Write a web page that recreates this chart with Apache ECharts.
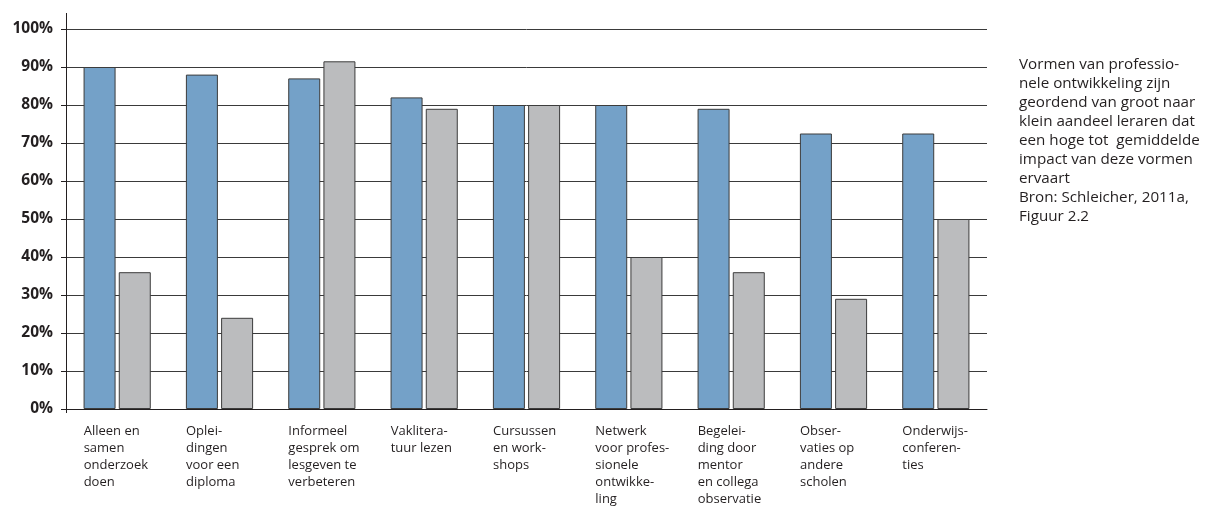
<!DOCTYPE html>
<html>
<head>
<meta charset="utf-8">
<script src="https://cdn.jsdelivr.net/npm/echarts@6/dist/echarts.min.js"></script>
<style>
  html, body { margin: 0; padding: 0; background: #fff; }
  #chart { width: 1216px; height: 510px; }
</style>
</head>
<body>
<div id="chart"></div>
<script>
const categories = [
  'Alleen en\nsamen\nonderzoek\ndoen',
  'Oplei-\ndingen\nvoor een\ndiploma',
  'Informeel\ngesprek om\nlesgeven te\nverbeteren',
  'Vaklitera-\ntuur lezen',
  'Cursussen\nen work-\nshops',
  'Netwerk\nvoor profes-\nsionele\nontwikke-\nling',
  'Begelei-\nding door\nmentor\nen collega\nobservatie',
  'Obser-\nvaties op\nandere\nscholen',
  'Onderwijs-\nconferen-\nties'
];
const blueValues = [90, 88, 87, 82, 80, 80, 79, 72.5, 72.5];
const grayValues = [36, 24, 91.5, 79, 80, 40, 36, 29, 50];
const yMin = 0, yMax = 100, yStep = 10;
const noteLines = [
  'Vormen van professio-',
  'nele ontwikkeling zijn',
  'geordend van groot naar',
  'klein aandeel leraren dat',
  'een hoge tot  gemiddelde',
  'impact van deze vormen',
  'ervaart',
  'Bron: Schleicher, 2011a,',
  'Figuur 2.2'
];

const FONT = '"Open Sans", "Noto Sans", sans-serif';
const chart = echarts.init(document.getElementById('chart'), null, { renderer: 'canvas' });

const GL = 66, GR = 987, GT = 29, GB = 409;

chart.setOption({
  animation: false,
  backgroundColor: '#ffffff',
  grid: { left: GL, right: 1216 - GR, top: GT, bottom: 510 - GB, containLabel: false },
  xAxis: {
    type: 'category',
    data: categories,
    boundaryGap: true,
    axisLine: { show: true, lineStyle: { color: '#231f20', width: 1 } },
    axisTick: { show: false },
    axisLabel: {
      interval: 0,
      margin: 14,
      color: '#231f20',
      fontFamily: FONT,
      fontSize: 13,
      formatter: function (v) { return '{a|' + v + '}'; },
      rich: { a: { width: 67, align: 'left', lineHeight: 17, fontFamily: FONT, fontSize: 13, color: '#231f20' } }
    }
  },
  yAxis: {
    type: 'value',
    min: yMin,
    max: yMax,
    interval: yStep,
    axisLine: { show: true, lineStyle: { color: '#231f20', width: 1 } },
    axisTick: { show: true, length: 5, lineStyle: { color: '#231f20' } },
    splitLine: { show: true, lineStyle: { color: '#3a3a3a', width: 1 } },
    axisLabel: {
      margin: 13,
      color: '#231f20',
      fontFamily: FONT,
      fontWeight: 'bold',
      fontSize: 15.5,
      formatter: '{value}%'
    }
  },
  series: [
    {
      name: 'blauw',
      type: 'bar',
      data: blueValues,
      barWidth: 32,
      barGap: '10%',
      itemStyle: { color: '#74a1c8', borderColor: '#3c3c3c', borderWidth: 1 }
    },
    {
      name: 'grijs',
      type: 'bar',
      data: grayValues,
      barWidth: 32,
      barGap: '10%',
      itemStyle: { color: '#bbbcbe', borderColor: '#3c3c3c', borderWidth: 1 }
    }
  ],
  graphic: [
    { type: 'line', shape: { x1: GL + 0.5, y1: 13, x2: GL + 0.5, y2: GT }, style: { stroke: '#231f20', lineWidth: 1 } },
    { type: 'line', shape: { x1: GL + 0.5, y1: GB, x2: GL + 0.5, y2: GB + 4 }, style: { stroke: '#231f20', lineWidth: 1 } },
    {
      type: 'text',
      left: 1019,
      top: 55,
      style: {
        text: noteLines.join('\n'),
        fontFamily: FONT,
        fontSize: 15.2,
        lineHeight: 19,
        fill: '#231f20'
      }
    }
  ]
});
</script>
</body>
</html>
